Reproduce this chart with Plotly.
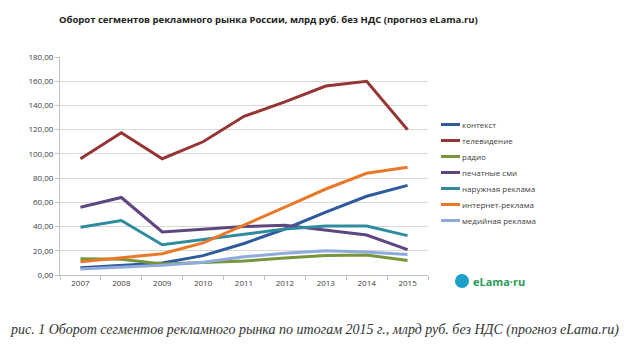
import plotly.graph_objects as go

years = ["2007", "2008", "2009", "2010", "2011", "2012", "2013", "2014", "2015"]
kontekst = [6, 8, 10, 16, 26, 38, 52, 65, 74]
tv = [96, 117.5, 96, 110, 131, 143, 156, 160, 120]
radio = [13.5, 13, 9, 10, 11.5, 14, 16, 16.5, 12]
pechat = [56, 64, 35.5, 38, 40, 41, 37, 33, 21]
naruzh = [39.5, 45, 25, 29.5, 34, 38, 40.5, 40.5, 32.5]
internet = [11, 14.5, 17.5, 26.5, 41, 56, 71, 84, 89]
media = [5, 6.5, 8, 10.5, 15, 18, 20, 19, 17]

series = [
    ("контекст", kontekst, "#2E5B9C"),
    ("телевидение", tv, "#963634"),
    ("радио", radio, "#77963B"),
    ("печатные сми", pechat, "#5F4680"),
    ("наружная реклама", naruzh, "#2E8C9E"),
    ("интернет-реклама", internet, "#E8792A"),
    ("медийная реклама", media, "#8FAADC"),
]

L, R, T, B = 60, 428, 57, 275
W, H = R - L, B - T

def px(x):
    return (x - L) / W

def py(y):
    return (B - y) / H

fig = go.Figure()
for name, vals, col in series:
    fig.add_trace(go.Scatter(x=years, y=vals, name=name, mode="lines",
                             line=dict(color=col, width=3), showlegend=False))

# manual legend (compact, Excel-like)
for i, (name, vals, col) in enumerate(series):
    yy = 124.5 + 16 * i
    fig.add_shape(type="line", xref="paper", yref="paper",
                  x0=px(441), x1=px(460), y0=py(yy), y1=py(yy),
                  line=dict(color=col, width=3))
    fig.add_annotation(text=name, xref="paper", yref="paper", x=px(460), y=py(yy),
                       xanchor="left", yanchor="middle", showarrow=False,
                       font=dict(size=8, color="#404040"))

fig.update_layout(
    width=625, height=352,
    margin=dict(l=L, r=625 - R, t=T, b=352 - B),
    paper_bgcolor="white", plot_bgcolor="white",
    separators=", ",
    font=dict(family="Open Sans, Liberation Sans, sans-serif", size=8, color="#404040"),
    showlegend=False,
    title=dict(text="<b>Оборот сегментов рекламного рынка России, млрд руб. без НДС (прогноз eLama.ru)</b>",
               x=59 / 625, xanchor="left", y=1 - 20 / 352, yanchor="middle",
               font=dict(size=9.5, color="#222222")),
)
fig.update_xaxes(type="category", showgrid=False, showline=True, linecolor="#BFBFBF",
                 ticks="outside", tickson="boundaries", ticklen=4, tickcolor="#BFBFBF",
                 tickfont=dict(size=8), range=[-0.5, 8.5])
fig.update_yaxes(range=[0, 180], dtick=20, tickformat=".2f", showgrid=True,
                 gridcolor="#D9D9D9", gridwidth=1, showline=True, linecolor="#BFBFBF",
                 ticks="outside", ticklen=4, tickcolor="#BFBFBF", zeroline=False,
                 tickfont=dict(size=8))

# logo
fig.add_shape(type="circle", xref="paper", yref="paper",
              x0=px(455), x1=px(469), y0=py(288), y1=py(274),
              fillcolor="#1E9FC8", line=dict(width=0))
fig.add_annotation(text="<b>eLama·ru</b>", xref="paper", yref="paper",
                   x=px(471), y=py(281), xanchor="left", yanchor="middle",
                   showarrow=False, font=dict(size=11, color="#2A9D5A", family="Open Sans, sans-serif"))

fig.add_annotation(text="<i>рис. 1 Оборот сегментов рекламного рынка по итогам 2015 г., млрд руб. без НДС (прогноз eLama.ru)</i>",
                   xref="paper", yref="paper", x=px(8), y=py(330),
                   xanchor="left", yanchor="middle", showarrow=False,
                   font=dict(size=14, color="#333333", family="Liberation Serif, serif"))

fig.write_html("out.html")
